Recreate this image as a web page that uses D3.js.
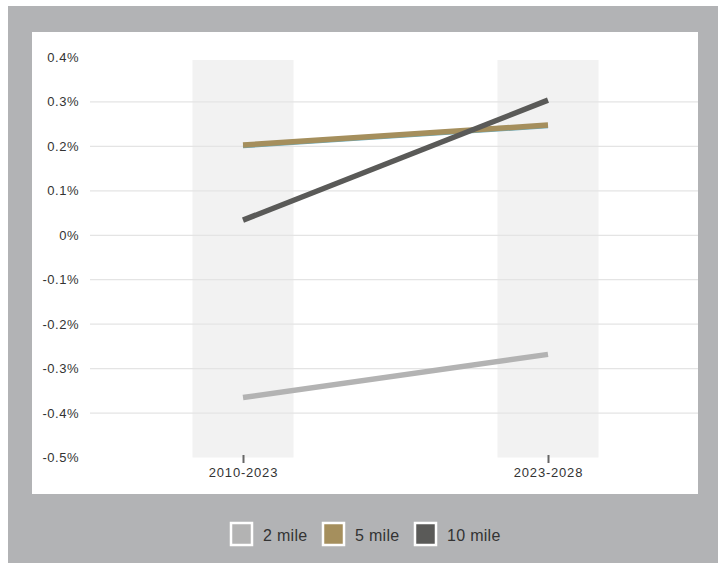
<!DOCTYPE html>
<html><head><meta charset="utf-8">
<script src="https://cdn.jsdelivr.net/npm/d3@7"></script>
<style>
html,body{margin:0;padding:0;background:#fff;}
svg{display:block;font-family:"Liberation Sans",Arial,sans-serif;}
</style></head>
<body>
<svg id="c" width="719" height="569"></svg>
<script>
const periods = ["2010-2023", "2023-2028"];
const seriesNames = ["2 mile", "5 mile", "10 mile"];
const mile2 = [-0.365, -0.268];
const mile5 = [0.203, 0.248];
const mile10 = [0.034, 0.304];
const yTicks = [0.4, 0.3, 0.2, 0.1, 0, -0.1, -0.2, -0.3, -0.4, -0.5];
const colors = ["#b3b3b3", "#a58f5d", "#5a5a58"];

const svg = d3.select("#c");
svg.append("rect").attr("x",8).attr("y",6).attr("width",710).attr("height",557).attr("fill","#b2b3b5");
svg.append("rect").attr("x",32).attr("y",32).attr("width",666).attr("height",462).attr("fill","#fff");

const y = d3.scaleLinear().domain([-0.5,0.4]).range([457.5,57.5]);
const x = d3.scalePoint().domain(periods).range([243,548]);
const bandW = 101;

// shaded bands
svg.selectAll("rect.band").data(periods).enter().append("rect")
  .attr("x", d=>x(d)-bandW/2).attr("y",60).attr("width",bandW).attr("height",y(-0.5)-60)
  .attr("fill","#f2f2f2");

// gridlines
svg.selectAll("line.grid").data(yTicks.filter(t=>t<0.35 && t>-0.45)).enter().append("line")
  .attr("x1",90).attr("x2",698).attr("y1",d=>y(d)).attr("y2",d=>y(d))
  .attr("stroke","#e4e4e4").attr("stroke-width",1.3);

// y labels
svg.selectAll("text.yl").data(yTicks).enter().append("text")
  .attr("x",79).attr("y",d=>y(d)+4.5).attr("text-anchor","end")
  .attr("font-size",13).attr("letter-spacing",0.5).attr("fill","#333")
  .text(d=> (d===0 ? "0" : d3.format(".1f")(d).replace("\u2212","-")) + "%");

// x axis ticks and labels
const xAxis = d3.axisBottom(x).tickSize(8).tickPadding(5).tickFormat(d=>d);
const gx = svg.append("g").attr("transform",`translate(0,${455})`).call(xAxis);
gx.select(".domain").remove();
gx.selectAll(".tick line").attr("stroke","#666").attr("stroke-width",2);
gx.selectAll(".tick text").attr("font-size",13).attr("letter-spacing",0.8).attr("fill","#333")
  .attr("font-family","'Liberation Sans',Arial,sans-serif");

// lines
const data = [mile2, mile5, mile10];
const line = d3.line().x((d,i)=>x(periods[i])).y(d=>y(d));
// faint teal under 5 mile
svg.append("path").attr("d", line(mile5.map(v=>v-0.004))).attr("fill","none")
  .attr("stroke","#6aa8b8").attr("stroke-width",3);
data.forEach((s,i)=>{
  svg.append("path").attr("d", line(s)).attr("fill","none")
    .attr("stroke",colors[i]).attr("stroke-width",5.5);
});

// legend
const legX = [230, 322, 414];
seriesNames.forEach((n,i)=>{
  svg.append("rect").attr("x",legX[i]+1).attr("y",523).attr("width",21).attr("height",22)
    .attr("fill",colors[i]).attr("stroke","#fff").attr("stroke-width",2.5);
  svg.append("text").attr("x",legX[i]+33).attr("y",540.5).attr("font-size",16)
    .attr("letter-spacing",0.3).attr("fill","#333").text(n);
});
</script>
</body></html>
